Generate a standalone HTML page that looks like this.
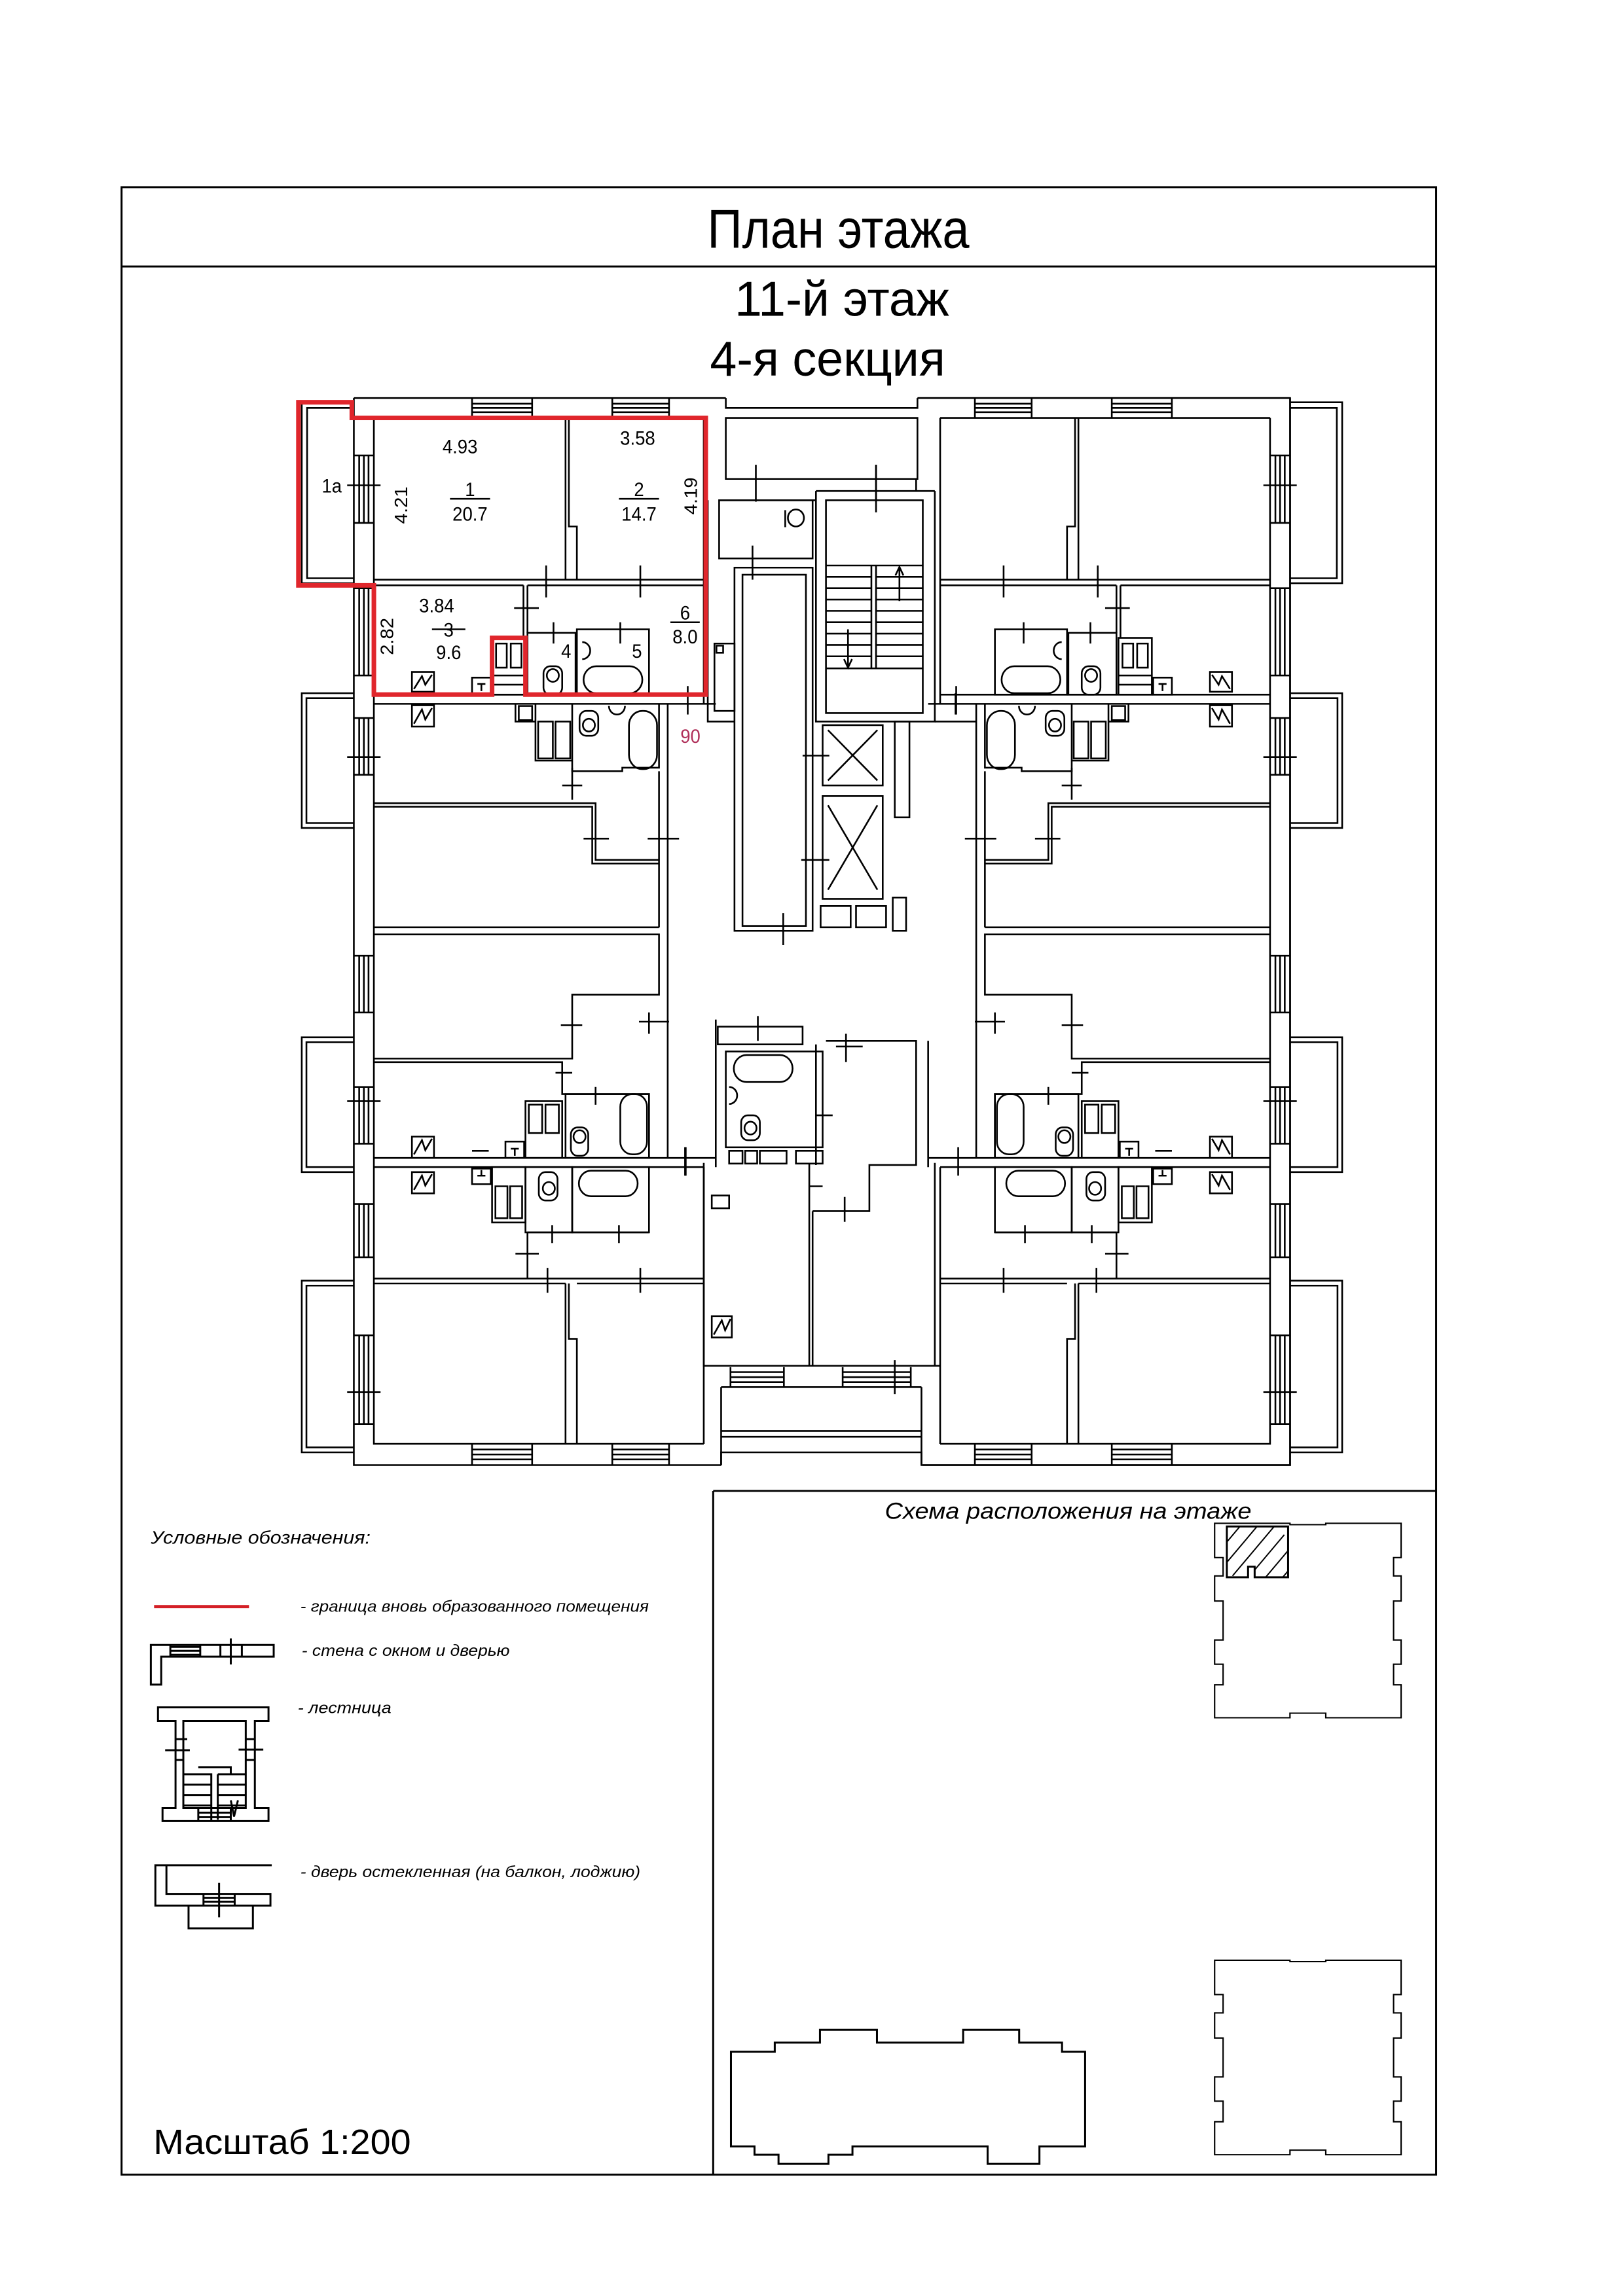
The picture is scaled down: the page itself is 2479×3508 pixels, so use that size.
<!DOCTYPE html>
<html><head><meta charset="utf-8"><style>
html,body{margin:0;padding:0;background:#fff}
svg{display:block}
text{font-family:"Liberation Sans",sans-serif;fill:#000}
.it{font-style:italic}
</style></head><body>
<svg width="2479" height="3508" viewBox="0 0 2479 3508" xmlns="http://www.w3.org/2000/svg">
<rect width="2479" height="3508" fill="#fff"/>
<g transform="scale(0.993)">
<g fill="none" stroke="#000" stroke-width="3">
<rect x="187" y="288" width="2022" height="3058"/>
<line x1="187" y1="410" x2="2209" y2="410"/>
<line x1="1097" y1="2294" x2="1097" y2="3346"/>
<line x1="1097" y1="2294" x2="2209" y2="2294"/>
</g>
<text x="1088" y="381" font-size="84" textLength="403" lengthAdjust="spacingAndGlyphs">План этажа</text>
<text x="1130" y="486" font-size="76" textLength="330" lengthAdjust="spacingAndGlyphs">11-й этаж</text>
<text x="1092" y="578" font-size="76" textLength="362" lengthAdjust="spacingAndGlyphs">4-я секция</text>

<text class="it" x="232" y="2375" font-size="28" textLength="338" lengthAdjust="spacingAndGlyphs">Условные обозначения:</text>
<line x1="237" y1="2472" x2="383" y2="2472" stroke="#d42027" stroke-width="5"/>
<text class="it" x="462" y="2480" font-size="24" textLength="536" lengthAdjust="spacingAndGlyphs">-  граница вновь образованного помещения</text>
<text class="it" x="464" y="2548" font-size="24" textLength="320" lengthAdjust="spacingAndGlyphs">-  стена с окном и дверью</text>
<text class="it" x="458" y="2636" font-size="24" textLength="144" lengthAdjust="spacingAndGlyphs">-  лестница</text>
<text class="it" x="462" y="2888" font-size="24" textLength="523" lengthAdjust="spacingAndGlyphs">-  дверь остекленная (на балкон, лоджию)</text>
<g fill="none" stroke="#000" stroke-width="3">
<path d="M232,2531 H421 V2549 H248 V2592 H232 Z"/>
<path d="M262,2534 H308 M262,2540 H308 M262,2546 H308 M262,2531 V2549 M308,2531 V2549 M339,2531 V2549 M372,2531 V2549 M355,2521 V2561"/>
<path d="M243,2627 H413 V2648 H392 V2782 H413 V2802 H250 V2782 H270 V2648 H243 Z"/>
<path d="M282,2648 V2782 H378 V2648 Z M270,2676 H288 M270,2708 H282 M378,2676 H392 M378,2708 H392 M254,2693 H292 M367,2692 H405"/>
<path d="M305,2719 H355 V2730 M282,2730 H325 V2802 M335,2730 H378 M335,2730 V2800 M282,2746 H325 M282,2762 H325 M282,2778 H325 M335,2746 H378 M335,2762 H378 M335,2778 H378"/>
<path d="M355,2770 L360,2795 L366,2770"/>
<path d="M305,2782 V2802 M355,2782 V2802 M305,2789 H355 M305,2796 H355"/>
<path d="M418,2870 H239 V2932 H416 V2914 H256 V2870 M290,2932 V2967 H389 V2932"/>
<path d="M313,2914 V2932 M361,2914 V2932 M313,2920 H361 M313,2926 H361 M337,2897 V2950"/>
</g>
<text x="236" y="3314" font-size="54" textLength="396" lengthAdjust="spacingAndGlyphs">Масштаб 1:200</text>

<text class="it" x="1361" y="2337" font-size="35" textLength="564" lengthAdjust="spacingAndGlyphs">Схема расположения на этаже</text>
<g transform="translate(1099,2291) scale(0.7244,0.704)" fill="none" stroke="#000" stroke-width="3">
<defs>
<path id="sq" d="M1062,75 H1222 V78 H1298 V75 H1458 V150 H1442 V190 H1458 V245 H1442 V330 H1458 V383 H1442 V428 H1458 V500 H1298 V490 H1222 V500 H1062 V428 H1080 V383 H1062 V330 H1080 V245 H1062 V190 H1080 V150 H1062 Z"/>
<clipPath id="hc"><path d="M1088,82 H1218 V193 H1147 V170 H1133 V193 H1088 Z"/></clipPath>
</defs>
<use href="#sq" vector-effect="non-scaling-stroke"/>
<use href="#sq" transform="translate(0,955)" vector-effect="non-scaling-stroke"/>
<path vector-effect="non-scaling-stroke" d="M1088,82 H1218 V193 H1147 V170 H1133 V193 H1088 Z"/>
<g clip-path="url(#hc)" stroke-width="2">
<path vector-effect="non-scaling-stroke" d="M1060,150 L1150,40 M1080,170 L1170,60 M1100,190 L1190,80 M1120,210 L1210,100 M1140,230 L1230,120 M1160,250 L1250,140 M1180,270 L1270,160 M1200,290 L1290,180 M1040,130 L1130,20"/>
</g>
<path vector-effect="non-scaling-stroke" d="M35,1230 H128 V1210 H224 V1182 H345 V1210 H528 V1182 H647 V1210 H738 V1230 H787 V1437 H690 V1475 H580 V1437 H293 V1455 H242 V1475 H136 V1455 H85 V1437 H35 Z"/>
</g>
</g>

<!-- PLAN -->
<g transform="translate(440.5,593) scale(1.020,1.084)" fill="none" stroke="#000" stroke-width="2.6">
<g id="L">
<path vector-effect="non-scaling-stroke" d="M98,14 H655 M128,42 H622 M98,14 V1518 H648 M128,42 V1488 H622"/>
<path vector-effect="non-scaling-stroke" d="M275,14 V42 M365,14 V42 M275,22 H365 M275,28 H365 M275,34 H365 M485,14 V42 M570,14 V42 M485,22 H570 M485,28 H570 M485,34 H570"/>
<path vector-effect="non-scaling-stroke" d="M275,1488 V1518 M365,1488 V1518 M275,1496 H365 M275,1503 H365 M275,1510 H365 M485,1488 V1518 M570,1488 V1518 M485,1496 H570 M485,1503 H570 M485,1510 H570"/>
<path vector-effect="non-scaling-stroke" d="M106,95 V190 M113,95 V190 M120,95 V190 M98,95 H128 M98,190 H128
M106,282 V405 M113,282 V405 M120,282 V405 M98,282 H128 M98,405 H128
M106,465 V545 M113,465 V545 M120,465 V545 M98,465 H128 M98,545 H128
M106,800 V880 M113,800 V880 M120,800 V880 M98,800 H128 M98,880 H128
M106,985 V1065 M113,985 V1065 M120,985 V1065 M98,985 H128 M98,1065 H128
M106,1150 V1225 M113,1150 V1225 M120,1150 V1225 M98,1150 H128 M98,1225 H128
M106,1335 V1460 M113,1335 V1460 M120,1335 V1460 M98,1335 H128 M98,1460 H128
M88,137 H138 M88,520 H138 M88,1005 H138 M88,1415 H138"/>
<path vector-effect="non-scaling-stroke" d="M98,20 H20 V275 H98 M98,28 H28 V268 H98 M98,430 H20 V620 H98 M98,437 H27 V613 H98 M98,915 H20 V1105 H98 M98,922 H27 V1098 H98 M98,1258 H20 V1500 H98 M98,1265 H27 V1493 H98"/>
<path vector-effect="non-scaling-stroke" d="M415,42 V270 M420,42 V195 H432 V270 M128,270 H622 M128,278 H352 M358,278 H622 M352,278 V352 M358,278 V345 M622,42 V445 M128,432 H622 M128,445 H640"/>
<rect vector-effect="non-scaling-stroke" x="305" y="352" width="50" height="80"/>
<rect vector-effect="non-scaling-stroke" x="311" y="360" width="16" height="34"/><rect vector-effect="non-scaling-stroke" x="333" y="360" width="16" height="34"/>
<path vector-effect="non-scaling-stroke" d="M305,405 H355 M305,418 H355"/>
<rect vector-effect="non-scaling-stroke" x="358" y="345" width="72" height="87"/>
<rect vector-effect="non-scaling-stroke" x="382" y="392" width="28" height="40" rx="10"/><circle vector-effect="non-scaling-stroke" cx="396" cy="405" r="9"/>
<rect vector-effect="non-scaling-stroke" x="432" y="340" width="108" height="92"/>
<rect vector-effect="non-scaling-stroke" x="442" y="392" width="88" height="38" rx="19"/>
<path vector-effect="non-scaling-stroke" d="M440,358 a12,12 0 0 1 0,24"/>
<path vector-effect="non-scaling-stroke" d="M185,400 h33 v28 h-33 z M188,424 L200,406 L205,418 L215,404"/>
<path vector-effect="non-scaling-stroke" d="M275,408 h28 v24 h-28 z M283,417 h12 M289,417 v10"/>
<path vector-effect="non-scaling-stroke" d="M185,447 h33 v30 h-33 z M188,473 L200,453 L205,467 L215,451"/>
<path vector-effect="non-scaling-stroke" d="M340,445 V470 H370 M370,445 V525 H425 M425,445 V540 H500 V535 H555 V445"/>
<rect vector-effect="non-scaling-stroke" x="374" y="470" width="22" height="52"/><rect vector-effect="non-scaling-stroke" x="400" y="470" width="22" height="52"/>
<rect vector-effect="non-scaling-stroke" x="345" y="448" width="20" height="20"/>
<rect vector-effect="non-scaling-stroke" x="510" y="455" width="42" height="82" rx="20"/>
<rect vector-effect="non-scaling-stroke" x="436" y="455" width="28" height="35" rx="10"/><circle vector-effect="non-scaling-stroke" cx="450" cy="475" r="9"/>
<path vector-effect="non-scaling-stroke" d="M480,448 a12,12 0 0 0 24,0"/>
<path vector-effect="non-scaling-stroke" d="M128,585 H460 V665 H555 M128,590 H455 V670 H555 M555,540 V760 M568,445 V1085 M128,760 H555 M128,770 H555 V855 H425 V945 H128 M128,950 H410 V995 H540 V1085"/>
<rect vector-effect="non-scaling-stroke" x="355" y="1005" width="55" height="80"/>
<rect vector-effect="non-scaling-stroke" x="360" y="1010" width="20" height="40"/><rect vector-effect="non-scaling-stroke" x="385" y="1010" width="20" height="40"/>
<rect vector-effect="non-scaling-stroke" x="415" y="995" width="125" height="90"/>
<rect vector-effect="non-scaling-stroke" x="497" y="995" width="40" height="85" rx="18"/>
<rect vector-effect="non-scaling-stroke" x="423" y="1042" width="26" height="40" rx="10"/><circle vector-effect="non-scaling-stroke" cx="436" cy="1055" r="9"/>
<path vector-effect="non-scaling-stroke" d="M185,1055 h33 v30 h-33 z M188,1080 L200,1060 L205,1074 L215,1058"/>
<path vector-effect="non-scaling-stroke" d="M185,1105 h33 v30 h-33 z M188,1130 L200,1110 L205,1124 L215,1108"/>
<path vector-effect="non-scaling-stroke" d="M325,1062 h28 v23 h-28 z M333,1072 h12 M339,1072 v10"/>
<path vector-effect="non-scaling-stroke" d="M128,1085 H640 M128,1098 H622"/>
<rect vector-effect="non-scaling-stroke" x="305" y="1098" width="50" height="78"/>
<rect vector-effect="non-scaling-stroke" x="310" y="1125" width="18" height="45"/><rect vector-effect="non-scaling-stroke" x="332" y="1125" width="18" height="45"/>
<rect vector-effect="non-scaling-stroke" x="355" y="1098" width="70" height="92"/>
<rect vector-effect="non-scaling-stroke" x="375" y="1105" width="28" height="40" rx="10"/><circle vector-effect="non-scaling-stroke" cx="390" cy="1128" r="9"/>
<rect vector-effect="non-scaling-stroke" x="425" y="1098" width="115" height="92"/>
<rect vector-effect="non-scaling-stroke" x="435" y="1103" width="88" height="36" rx="18"/>
<path vector-effect="non-scaling-stroke" d="M275,1100 h28 v22 h-28 z M283,1110 h12 M289,1110 v-8"/>
<path vector-effect="non-scaling-stroke" d="M358,1190 V1255 M358,1190 H540 V1190 M128,1255 H622 M128,1262 H415 M432,1262 H622 M415,1262 V1488 M420,1262 V1340 H432 V1488 M622,1098 V1488 M640,1085 V1098"/>
<path vector-effect="non-scaling-stroke" d="M386,250 V295 M527,250 V295 M338,310 H375 M397,330 V360 M497,330 V360 M598,420 V460 M425,535 V580 M410,560 H440 M442,635 H480 M538,635 H585 M408,898 H440 M540,880 V910 M525,893 H570 M400,965 H425 M460,985 V1010 M275,1075 H300 M595,1070 V1110 M395,1180 V1205 M495,1180 V1205 M340,1220 H375 M388,1240 V1275 M527,1240 V1275"/>
</g>
<use href="#L" transform="translate(1598,0) scale(-1,1)"/>
<path vector-effect="non-scaling-stroke" d="M655,14 V28 H942 V14 M942,14 H1500 V1518 H948 V1500 H648 V1518"/>
<rect vector-effect="non-scaling-stroke" x="655" y="42" width="287" height="86"/>
<path vector-effect="non-scaling-stroke" d="M628,158 V470 H668 M645,158 H790 M700,108 V160 M880,108 V160 M940,128 V145"/>
<rect vector-effect="non-scaling-stroke" x="645" y="158" width="140" height="82"/>
<circle vector-effect="non-scaling-stroke" cx="760" cy="183" r="12"/><path vector-effect="non-scaling-stroke" d="M744,172 V196"/>
<rect vector-effect="non-scaling-stroke" x="668" y="253" width="117" height="512"/>
<rect vector-effect="non-scaling-stroke" x="680" y="263" width="95" height="495"/>
<rect vector-effect="non-scaling-stroke" x="638" y="360" width="30" height="95"/>
<rect vector-effect="non-scaling-stroke" x="641" y="363" width="10" height="10"/>
<path vector-effect="non-scaling-stroke" d="M695,222 V270 M741,740 V785 M770,518 H810 M768,665 H810"/>
<path vector-effect="non-scaling-stroke" d="M790,145 V470 H968 V145 M790,145 H968"/>
<rect vector-effect="non-scaling-stroke" x="805" y="158" width="145" height="300"/>
<path vector-effect="non-scaling-stroke" d="M805,250 H950 M805,395 H950 M873,250 V395 M880,250 V395
M805,266 H873 M805,282 H873 M805,298 H873 M805,314 H873 M805,330 H873 M805,346 H873 M805,362 H873 M805,378 H873
M880,266 H950 M880,282 H950 M880,298 H950 M880,314 H950 M880,330 H950 M880,346 H950 M880,362 H950 M880,378 H950
M838,340 V392 M832,382 L838,394 L844,382 M915,255 V300 M909,264 L915,252 L921,264 M880,108 V175"/>
<rect vector-effect="non-scaling-stroke" x="800" y="475" width="90" height="85"/>
<path vector-effect="non-scaling-stroke" d="M808,482 L882,553 M882,482 L808,553"/>
<rect vector-effect="non-scaling-stroke" x="800" y="575" width="90" height="145"/>
<path vector-effect="non-scaling-stroke" d="M808,588 L882,707 M882,588 L808,707"/>
<rect vector-effect="non-scaling-stroke" x="797" y="730" width="45" height="30"/>
<rect vector-effect="non-scaling-stroke" x="850" y="730" width="45" height="30"/>
<rect vector-effect="non-scaling-stroke" x="908" y="470" width="22" height="135"/>
<rect vector-effect="non-scaling-stroke" x="905" y="718" width="20" height="47"/>
<path vector-effect="non-scaling-stroke" d="M968,470 H1030 M999,430 V460"/>
<rect vector-effect="non-scaling-stroke" x="643" y="900" width="127" height="25"/>
<rect vector-effect="non-scaling-stroke" x="655" y="935" width="145" height="135"/>
<rect vector-effect="non-scaling-stroke" x="667" y="940" width="88" height="38" rx="19"/>
<rect vector-effect="non-scaling-stroke" x="678" y="1025" width="28" height="35" rx="10"/><circle vector-effect="non-scaling-stroke" cx="692" cy="1043" r="9"/>
<path vector-effect="non-scaling-stroke" d="M660,985 a12,12 0 0 1 0,24"/>
<rect vector-effect="non-scaling-stroke" x="660" y="1075" width="20" height="18"/><rect vector-effect="non-scaling-stroke" x="684" y="1075" width="18" height="18"/><rect vector-effect="non-scaling-stroke" x="706" y="1075" width="40" height="18"/><rect vector-effect="non-scaling-stroke" x="760" y="1075" width="40" height="18"/>
<path vector-effect="non-scaling-stroke" d="M790,925 V1095 M805,920 H940 V1095 H870 V1160 H785 M640,890 V1085 M958,920 V1085 M703,885 V920 M835,910 V950 M820,928 H860 M790,1025 H815 M833,1140 V1175 M594,1070 V1110"/>
<path vector-effect="non-scaling-stroke" d="M622,1092 V1378 H780 V1092 M785,1160 V1378 H968 V1092 M780,1125 H800"/>
<rect vector-effect="non-scaling-stroke" x="634" y="1138" width="26" height="18"/>
<path vector-effect="non-scaling-stroke" d="M634,1308 h30 v30 h-30 z M637,1334 L649,1314 L654,1328 L662,1312"/>
<path vector-effect="non-scaling-stroke" d="M622,1378 H975 M648,1408 H948 M648,1408 V1478 H948 V1408 M648,1470 H948 M662,1380 V1408 M742,1380 V1408 M662,1387 H742 M662,1394 H742 M662,1401 H742 M830,1380 V1408 M932,1380 V1408 M830,1387 H932 M830,1394 H932 M830,1401 H932 M908,1370 V1418 M648,1478 V1518 M948,1478 V1518"/>
</g>
<g transform="translate(440.5,593) scale(1.020,1.084)">
<path vector-effect="non-scaling-stroke" d="M15,20 H95 V42 H625 V432 H355 V352 H305 V432 H128 V278 H15 Z" fill="none" stroke="#e0262c" stroke-width="7"/>
<g font-size="27">
<text x="257" y="92" text-anchor="middle">4.93</text>
<text x="272" y="152" text-anchor="middle">1</text>
<text x="272" y="187" text-anchor="middle">20.7</text>
<text x="523" y="80" text-anchor="middle">3.58</text>
<text x="525" y="152" text-anchor="middle">2</text>
<text x="525" y="187" text-anchor="middle">14.7</text>
<text x="65" y="147" text-anchor="middle">1a</text>
<text x="222" y="316" text-anchor="middle">3.84</text>
<text x="240" y="350" text-anchor="middle">3</text>
<text x="240" y="382" text-anchor="middle">9.6</text>
<text x="594" y="326" text-anchor="middle">6</text>
<text x="594" y="360" text-anchor="middle">8.0</text>
<text x="416" y="380" text-anchor="middle">4</text>
<text x="522" y="380" text-anchor="middle">5</text>
<text x="602" y="500" text-anchor="middle" style="fill:#b0305a">90</text>
<text transform="translate(178,165) rotate(-90)" text-anchor="middle">4.21</text>
<text transform="translate(612,152) rotate(-90)" text-anchor="middle">4.19</text>
<text transform="translate(157,350) rotate(-90)" text-anchor="middle">2.82</text>
</g>
<path vector-effect="non-scaling-stroke" d="M242,156 H302 M495,156 H555 M215,340 H265 M572,330 H616" stroke="#000" stroke-width="2.5"/>
</g>
</svg>
</body></html>
